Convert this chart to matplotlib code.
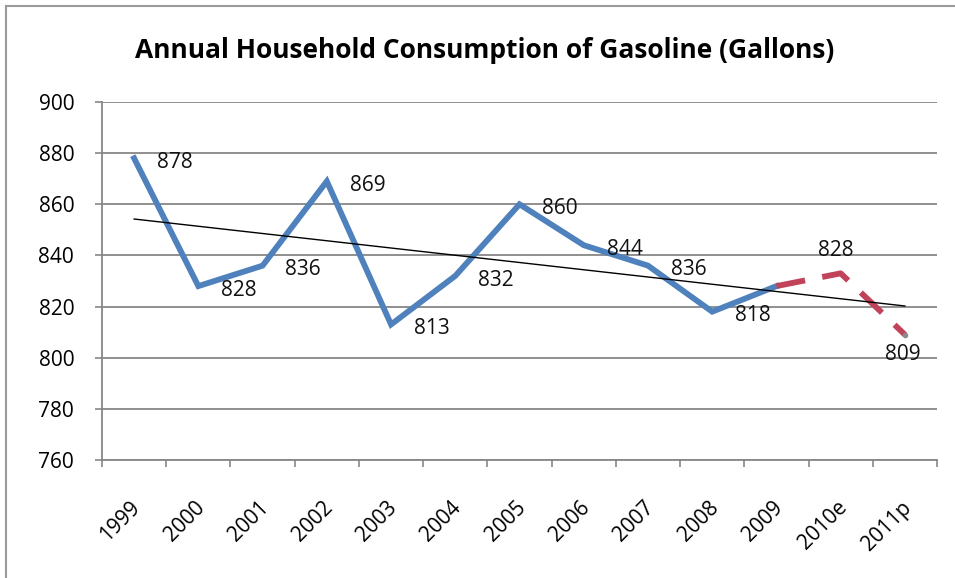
import numpy as np
import matplotlib
matplotlib.use("Agg")
import matplotlib.pyplot as plt
from matplotlib.lines import Line2D
from matplotlib.transforms import ScaledTranslation

plt.rcParams['font.family'] = ['Open Sans', 'DejaVu Sans']

# data
years = ['1999', '2000', '2001', '2002', '2003', '2004', '2005',
         '2006', '2007', '2008', '2009', '2010e', '2011p']
actual = [878, 828, 836, 869, 813, 832, 860, 844, 836, 818, 828]
projected = [828, 833, 809]          # 2009, 2010e, 2011p
actual_labels = ['878', '828', '836', '869', '813', '832', '860',
                 '844', '836', '818', '']
projected_labels = ['', '828', '809']

x_act = np.arange(len(actual))
x_proj = np.arange(len(actual) - 1, len(years))

fig = plt.figure(figsize=(9.55, 5.78), dpi=100)
ax = fig.add_axes([0.1068, 0.2042, 0.8744, 0.6193])

grid_col = '#878787'

# trend over the whole series
all_x = np.arange(len(years))
all_y = actual[:-1] + projected
slope, icpt = np.polyfit(all_x, all_y, 1)
ax.plot(all_x, slope * all_x + icpt, color='black', lw=1.0, zorder=4)

ax.plot(x_act, actual, color='#4F81BD', lw=4.2, solid_joinstyle='miter', zorder=3)
ax.plot(x_proj, projected, color='#C0435A', lw=4.2, dashes=(5, 3),
        zorder=3)
ax.plot(x_proj[-1], projected[-1], 'o', color='#8a8a8a', ms=3, zorder=5)

# data labels
for xi, yi, lab in zip(x_act, actual, actual_labels):
    if lab:
        ax.annotate(lab, (xi, yi), xytext=(16.5, -3), textcoords='offset points',
                    ha='left', va='center', fontsize=15, color='#111111')
ax.annotate(projected_labels[1], (x_proj[1], projected[1]), xytext=(-3.5, 16.5),
            textcoords='offset points', ha='center', va='center',
            fontsize=15, color='#111111')
ax.annotate(projected_labels[2], (x_proj[2], projected[2]), xytext=(-1.5, -14.5),
            textcoords='offset points', ha='center', va='center',
            fontsize=15, color='#111111')

ax.set_xlim(-0.5, len(years) - 0.5)
ax.set_ylim(760, 900)
ax.set_yticks(np.arange(760, 901, 20))
ax.yaxis.grid(True, color=grid_col, lw=1.3)
ax.set_axisbelow(True)

ax.set_xticks(all_x)
ax.set_xticklabels(years, rotation=45, ha='right', va='center',
                   rotation_mode='anchor', fontsize=15)
ax.set_xticks(np.arange(-0.5, len(years)), minor=True)
ax.tick_params(axis='x', which='major', length=0, pad=32)
ax.tick_params(axis='x', which='minor', length=5, color=grid_col, width=1.2)
ax.tick_params(axis='y', length=5, color=grid_col, width=1.2, pad=15,
               labelsize=15)
shift = ScaledTranslation(3 / 100, 0, fig.dpi_scale_trans)
for lbl in ax.get_xticklabels():
    lbl.set_transform(lbl.get_transform() + shift)

for s in ['top', 'right']:
    ax.spines[s].set_visible(False)
for s in ['left', 'bottom']:
    ax.spines[s].set_color(grid_col)
    ax.spines[s].set_linewidth(1.3)

fig.text(0.507, 0.912, 'Annual Household Consumption of Gasoline (Gallons)',
         ha='center', va='center', fontsize=19, fontweight='bold')

# outer chart border (top and left visible)
fig.add_artist(Line2D([6 / 955, 1], [1 - 6 / 578, 1 - 6 / 578],
                      transform=fig.transFigure, color='#9a9a9a', lw=1.5))
fig.add_artist(Line2D([6 / 955, 6 / 955], [0, 1 - 6 / 578],
                      transform=fig.transFigure, color='#9a9a9a', lw=1.5))

fig.savefig('out.png', dpi=100)
